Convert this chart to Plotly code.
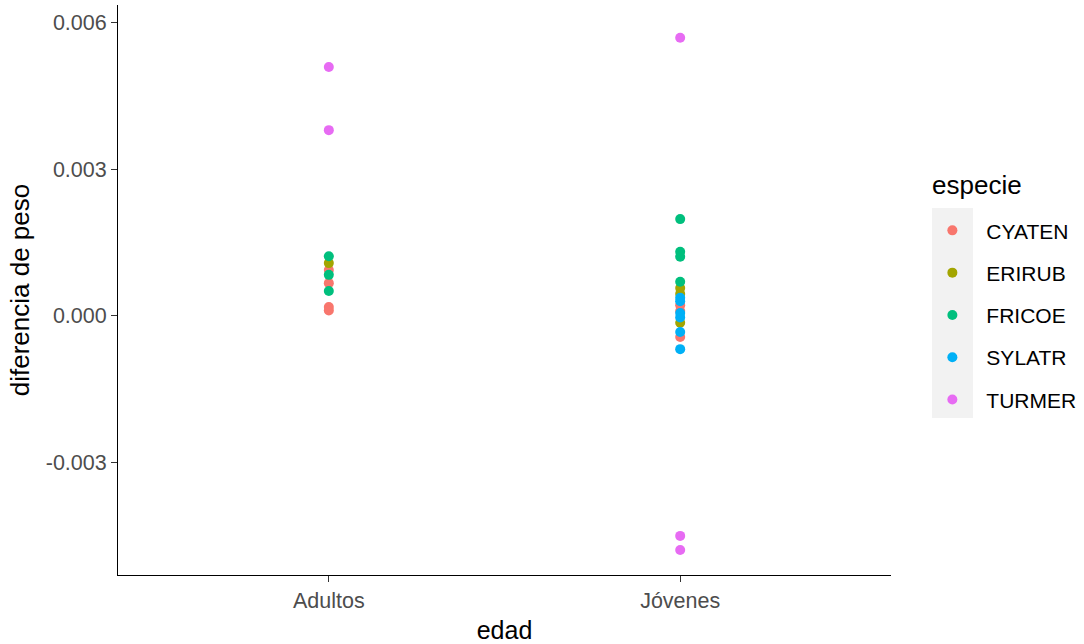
import plotly.graph_objects as go

# Weight difference by age class, one trace per species
especies = ["CYATEN", "ERIRUB", "FRICOE", "SYLATR", "TURMER"]
colores = ["#F8766D", "#A3A500", "#00BF7D", "#00B0F6", "#E76BF3"]

cyaten_edad = ["Adultos", "Adultos", "Adultos", "Adultos", "Jóvenes", "Jóvenes", "Jóvenes"]
cyaten_dif = [0.00094, 0.00067, 0.00018, 0.00011, 0.00022, 0.00010, -0.00043]

erirub_edad = ["Adultos", "Jóvenes", "Jóvenes", "Jóvenes"]
erirub_dif = [0.00108, 0.00057, 0.00045, -0.00014]

fricoe_edad = ["Adultos", "Adultos", "Adultos", "Jóvenes", "Jóvenes", "Jóvenes", "Jóvenes"]
fricoe_dif = [0.00122, 0.00084, 0.00051, 0.00198, 0.00131, 0.00121, 0.00070]

sylatr_edad = ["Jóvenes", "Jóvenes", "Jóvenes", "Jóvenes", "Jóvenes", "Jóvenes"]
sylatr_dif = [0.00037, 0.00030, 0.00006, -0.00003, -0.00033, -0.00068]

turmer_edad = ["Adultos", "Adultos", "Jóvenes", "Jóvenes", "Jóvenes"]
turmer_dif = [0.00509, 0.00380, 0.00569, -0.00450, -0.00479]

edades = ["Adultos", "Jóvenes"]
y_ticks = [-0.003, 0.0, 0.003, 0.006]
y_tick_labels = ["-0.003", "0.000", "0.003", "0.006"]

series = [
    (cyaten_edad, cyaten_dif),
    (erirub_edad, erirub_dif),
    (fricoe_edad, fricoe_dif),
    (sylatr_edad, sylatr_dif),
    (turmer_edad, turmer_dif),
]

FONT = "Liberation Sans, Arial, sans-serif"

fig = go.Figure()
for nombre, color, (edad, dif) in zip(especies, colores, series):
    fig.add_trace(go.Scatter(
        x=edad, y=dif, mode="markers", name=nombre, legendgroup=nombre,
        marker=dict(color=color, size=10, line=dict(width=0)),
    ))

# grey panel behind the legend keys
fig.add_shape(type="rect", xref="paper", yref="paper",
              x0=1.053, x1=1.106, y0=0.2754, y1=0.644,
              fillcolor="#F2F2F2", line=dict(width=0), layer="below")

# legend heading
fig.add_annotation(text="especie", xref="paper", yref="paper",
                   x=1.050, y=0.685, xanchor="left", yanchor="middle",
                   showarrow=False, font=dict(size=26, color="#000000"))

fig.update_layout(
    width=1084, height=644,
    margin=dict(l=118, r=193, t=5, b=69, autoexpand=False),
    paper_bgcolor="white", plot_bgcolor="white",
    font=dict(family=FONT, color="#000000"),
    showlegend=True,
    legend=dict(
        font=dict(size=21, color="#000000"),
        x=1.0354, xanchor="left", y=0.640, yanchor="top",
        bgcolor="rgba(0,0,0,0)", tracegroupgap=12,
        traceorder="grouped", itemwidth=58,
    ),
    xaxis=dict(
        type="category", categoryorder="array", categoryarray=edades,
        range=[-0.6, 1.6],
        showgrid=False, zeroline=False,
        showline=True, linecolor="#000000", linewidth=1,
        ticks="outside", ticklen=6, tickcolor="#333333", tickwidth=1,
        tickfont=dict(size=21.5, color="#4D4D4D"),
        title=dict(text="edad", font=dict(size=25, color="#000000"), standoff=9),
    ),
    yaxis=dict(
        range=[-0.0053, 0.00636],
        tickvals=y_ticks, ticktext=y_tick_labels,
        showgrid=False, zeroline=False,
        showline=True, linecolor="#000000", linewidth=1,
        ticks="outside", ticklen=6, tickcolor="#333333", tickwidth=1,
        tickfont=dict(size=21.5, color="#4D4D4D"),
        title=dict(text="diferencia de peso", font=dict(size=26, color="#000000"), standoff=8),
    ),
)

fig.write_html("out.html")
